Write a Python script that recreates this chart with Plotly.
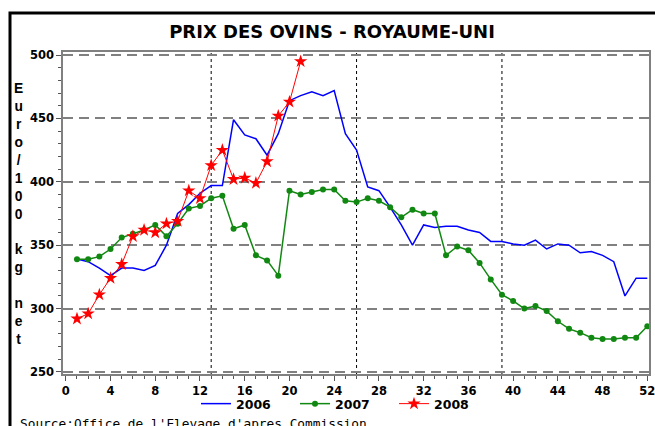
import plotly.graph_objects as go

weeks = list(range(1, 53))

prix_2006 = [339, 337, 332, 326, 332, 332, 330, 334, 350, 375, 382, 391, 397, 397,
             449, 437, 434, 421, 438, 464, 468, 471, 468, 472, 438, 425, 396, 393,
             380, 366, 350, 366, 364, 365, 365, 362, 360, 353, 353, 351, 350, 354,
             347, 351, 350, 344, 345, 342, 337, 310, 324, 324]

prix_2007 = [339, 339, 341, 347, 356, 359, 362, 366, 357, 367, 379, 381, 387, 389,
             363, 366, 342, 338, 326, 393, 390, 392, 394, 394, 385, 384, 387, 385,
             380, 372, 378, 375, 375, 342, 349, 346, 336, 323, 311, 306, 300, 302,
             298, 290, 284, 281, 277, 276, 276, 277, 277, 286]

weeks_2008 = list(range(1, 22))
prix_2008 = [292, 296, 311, 324, 335, 357, 362, 360, 367, 369, 393, 387, 413, 425,
             402, 403, 399, 416, 452, 463, 495]

x_ticks = list(range(0, 53, 4))
y_ticks = [250, 300, 350, 400, 450, 500]
quarter_weeks = [13, 26, 39]

title_text = "PRIX DES OVINS - ROYAUME-UNI"
y_title = "Euro/100 kg net"
source_text = "Source:Office de l'Elevage d'apres Commission"

W, H = 655, 426
PLOT_L, PLOT_T, PLOT_R, PLOT_B = 63, 52, 649, 374   # pixels
L = PLOT_L
T = PLOT_T
pw = PLOT_R - PLOT_L
ph = PLOT_B - PLOT_T
R = W - L - pw
B = H - T - ph

def px_x(px):
    return (px - PLOT_L) / pw

def px_y(py):
    return (PLOT_B - py) / ph

fig = go.Figure()
fig.add_trace(go.Scatter(x=weeks, y=prix_2006, mode="lines", name="2006",
                         line=dict(color="#0000ff", width=1.5)))
fig.add_trace(go.Scatter(x=weeks, y=prix_2007, mode="lines+markers", name="2007",
                         line=dict(color="#118811", width=1.5),
                         marker=dict(symbol="circle", size=6, color="#118811")))
fig.add_trace(go.Scatter(x=weeks_2008, y=prix_2008, mode="lines+markers", name="2008",
                         line=dict(color="#ff0000", width=1),
                         marker=dict(symbol="star", size=10, color="#ff0000")))

for wk in quarter_weeks:
    fig.add_shape(type="line", xref="x", yref="paper", x0=wk, x1=wk, y0=0, y1=1,
                  line=dict(color="black", width=1, dash="dot"), layer="below")

# outer frame
fig.add_shape(type="rect", xref="paper", yref="paper",
              x0=px_x(10), x1=px_x(690), y0=px_y(460), y1=px_y(13),
              line=dict(color="black", width=3), layer="above")

fig.add_annotation(text="<br>".join(c if c != " " else " " for c in y_title),
                   xref="paper", yref="paper", x=px_x(18), y=px_y(214),
                   xanchor="center", yanchor="middle", showarrow=False,
                   font=dict(family="Liberation Sans", size=13.8, color="black", weight="bold"))

fig.add_annotation(text=source_text, xref="paper", yref="paper",
                   x=px_x(18), y=px_y(423), xanchor="left", yanchor="middle",
                   showarrow=False,
                   font=dict(family="DejaVu Sans Mono", size=12.8, color="black"))

tickfont = dict(family="DejaVu Sans", size=11.5, color="black", weight="bold")

fig.update_layout(
    width=W, height=H,
    margin=dict(l=L, r=R, t=T, b=B, autoexpand=False),
    paper_bgcolor="white", plot_bgcolor="white",
    title=dict(text=title_text, x=px_x(332), xref="paper", xanchor="center",
               y=1 - 32 / H, yref="container", yanchor="middle",
               font=dict(family="DejaVu Sans", size=18, color="black", weight="bold")),
    xaxis=dict(range=[-0.25, 52.15], tickvals=x_ticks, ticks="outside", ticklen=5,
               tickcolor="#555555", showgrid=False, zeroline=False, automargin=False,
               ticklabeloverflow="allow",
               showline=True, mirror=True, linecolor="#808080", linewidth=1.5,
               tickfont=tickfont,
               minor=dict(dtick=1, tick0=0, ticks="outside", ticklen=3, tickcolor="#555555")),
    yaxis=dict(range=[248.4, 502.4], tickvals=y_ticks, ticks="outside", ticklen=5,
               tickcolor="#555555", showgrid=True, gridcolor="#808080", gridwidth=1.5,
               griddash="10px,6px", zeroline=False, automargin=False,
               ticklabeloverflow="allow",
               showline=True, mirror=True, linecolor="#808080", linewidth=1.5,
               tickfont=tickfont,
               minor=dict(dtick=10, tick0=0, ticks="outside", ticklen=3, tickcolor="#555555",
                          showgrid=False)),
    legend=dict(orientation="h", x=px_x(196), xanchor="left", y=px_y(404),
                yanchor="middle", font=dict(family="DejaVu Sans", size=12.5, color="black",
                                            weight="bold"),
                bgcolor="rgba(0,0,0,0)", itemwidth=30, entrywidth=54,
                entrywidthmode="pixels"),
    showlegend=True,
)

fig.write_html("out.html",
               config={"displayModeBar": False},
               post_script="document.body.style.margin='0';"
                           "document.body.style.overflow='hidden';")
